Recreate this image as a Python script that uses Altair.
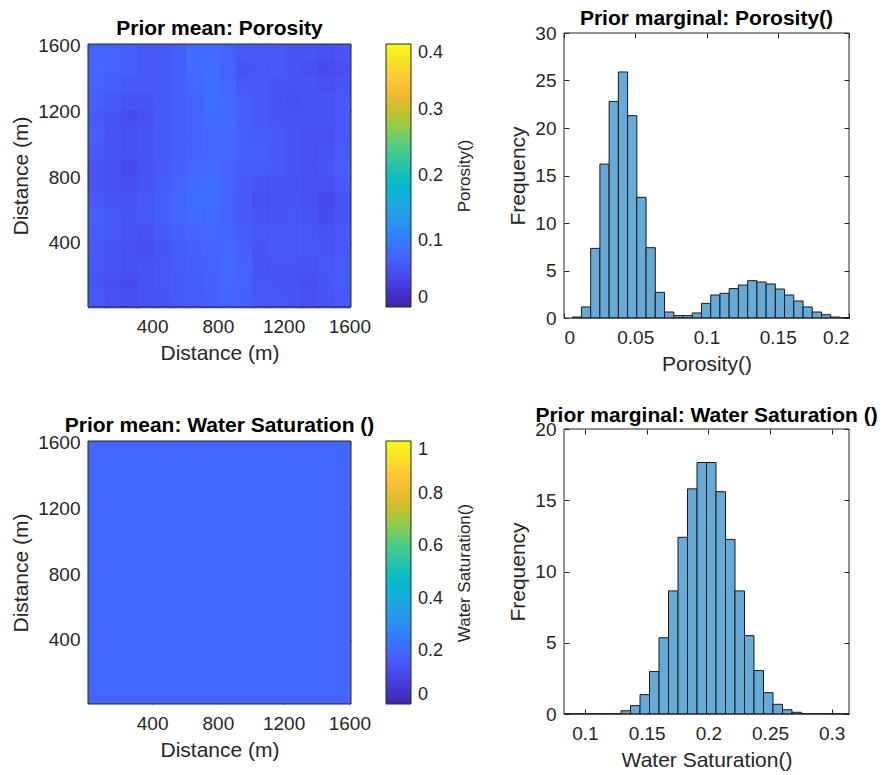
import altair as alt
import pandas as pd

# ---------------- data ----------------
# Porosity prior-mean field, 16 x 16 cells of 100 m (rows from top y=1560 to bottom y=60)
X_CENTERS = [60, 160, 260, 360, 460, 560, 660, 760, 860, 960, 1060, 1160, 1260, 1360, 1460, 1560]
Y_CENTERS = [1560, 1460, 1360, 1260, 1160, 1060, 960, 860, 760, 660, 560, 460, 360, 260, 160, 60]
CELL = 100
POROSITY_ROWS = [
    [0.075, 0.075, 0.070, 0.065, 0.065, 0.070, 0.085, 0.085, 0.075, 0.065, 0.065, 0.065, 0.060, 0.060, 0.055, 0.060],
    [0.080, 0.075, 0.070, 0.065, 0.065, 0.070, 0.085, 0.090, 0.075, 0.060, 0.062, 0.065, 0.060, 0.055, 0.048, 0.055],
    [0.075, 0.070, 0.065, 0.065, 0.065, 0.070, 0.080, 0.090, 0.080, 0.065, 0.065, 0.060, 0.058, 0.060, 0.055, 0.060],
    [0.070, 0.065, 0.060, 0.060, 0.065, 0.070, 0.075, 0.090, 0.085, 0.070, 0.065, 0.058, 0.055, 0.060, 0.060, 0.065],
    [0.065, 0.060, 0.050, 0.055, 0.065, 0.070, 0.075, 0.085, 0.085, 0.070, 0.065, 0.060, 0.058, 0.060, 0.060, 0.065],
    [0.070, 0.060, 0.055, 0.060, 0.065, 0.070, 0.075, 0.080, 0.080, 0.070, 0.068, 0.065, 0.060, 0.055, 0.055, 0.065],
    [0.065, 0.060, 0.055, 0.060, 0.065, 0.070, 0.075, 0.080, 0.080, 0.072, 0.070, 0.065, 0.060, 0.055, 0.058, 0.068],
    [0.060, 0.055, 0.050, 0.058, 0.065, 0.072, 0.080, 0.085, 0.075, 0.068, 0.068, 0.065, 0.060, 0.055, 0.060, 0.070],
    [0.060, 0.055, 0.052, 0.060, 0.068, 0.075, 0.085, 0.090, 0.078, 0.065, 0.058, 0.060, 0.058, 0.055, 0.055, 0.065],
    [0.065, 0.060, 0.058, 0.062, 0.070, 0.078, 0.090, 0.088, 0.075, 0.065, 0.055, 0.058, 0.060, 0.055, 0.048, 0.060],
    [0.070, 0.065, 0.060, 0.062, 0.070, 0.078, 0.085, 0.082, 0.075, 0.065, 0.058, 0.060, 0.062, 0.058, 0.050, 0.060],
    [0.068, 0.062, 0.058, 0.055, 0.065, 0.072, 0.078, 0.080, 0.078, 0.068, 0.062, 0.065, 0.065, 0.062, 0.058, 0.065],
    [0.065, 0.060, 0.055, 0.052, 0.060, 0.068, 0.072, 0.078, 0.080, 0.070, 0.060, 0.065, 0.065, 0.062, 0.060, 0.065],
    [0.062, 0.058, 0.055, 0.058, 0.062, 0.068, 0.070, 0.075, 0.082, 0.075, 0.058, 0.060, 0.060, 0.058, 0.062, 0.068],
    [0.060, 0.052, 0.050, 0.058, 0.062, 0.065, 0.068, 0.072, 0.080, 0.075, 0.062, 0.060, 0.058, 0.052, 0.060, 0.068],
    [0.062, 0.055, 0.052, 0.058, 0.060, 0.065, 0.068, 0.070, 0.078, 0.072, 0.065, 0.062, 0.060, 0.055, 0.060, 0.065],
]
SW_MEAN = 0.2            # water saturation prior mean (uniform field)
FIELD_EXTENT = [10, 1610]

# Porosity marginal histogram (30 bins)
POR_BIN_START = 0.00575
POR_BIN_WIDTH = 0.00648
POR_FREQ = [0.1, 1.16, 7.33, 16.2, 22.8, 25.9, 21.3, 12.7, 7.4, 2.7,
            0.63, 0.25, 0.25, 0.53, 1.54, 2.42, 2.6, 3.1, 3.47, 3.93,
            3.79, 3.58, 3.05, 2.42, 1.79, 1.16, 0.63, 0.35, 0.1, 0.05]

# Water saturation marginal histogram (30 bins)
SW_BIN_START = 0.083
SW_BIN_WIDTH = 0.0077
SW_FREQ = [0.02, 0.02, 0.02, 0.02, 0.02, 0.03, 0.23, 0.59, 1.36, 2.98,
           5.35, 8.64, 12.4, 15.8, 17.65, 17.65, 15.6, 12.25, 8.64, 5.5,
           3.05, 1.5, 0.68, 0.3, 0.12, 0.03, 0.02, 0.02, 0.02, 0.02]

DIST_TICKS = [400, 800, 1200, 1600]
POR_CBAR_TICKS = [0, 0.1, 0.2, 0.3, 0.4]
SW_CBAR_TICKS = [0, 0.2, 0.4, 0.6, 0.8, 1]
POR_X_TICKS = [0, 0.05, 0.1, 0.15, 0.2]
POR_Y_TICKS = [0, 5, 10, 15, 20, 25, 30]
SW_X_TICKS = [0.1, 0.15, 0.2, 0.25, 0.3]
SW_Y_TICKS = [0, 5, 10, 15, 20]

# ---------------- style ----------------
PARULA_RGB = [
    (0.2422, 0.1504, 0.6603), (0.2504, 0.1650, 0.7076), (0.2578, 0.1818, 0.7511), (0.2647, 0.1978, 0.7952),
    (0.2706, 0.2147, 0.8364), (0.2751, 0.2342, 0.8710), (0.2783, 0.2559, 0.8991), (0.2803, 0.2782, 0.9221),
    (0.2813, 0.3006, 0.9414), (0.2810, 0.3228, 0.9579), (0.2795, 0.3447, 0.9717), (0.2760, 0.3667, 0.9829),
    (0.2699, 0.3892, 0.9906), (0.2602, 0.4123, 0.9952), (0.2440, 0.4358, 0.9988), (0.2206, 0.4603, 0.9973),
    (0.1963, 0.4847, 0.9892), (0.1834, 0.5074, 0.9798), (0.1786, 0.5289, 0.9682), (0.1764, 0.5499, 0.9520),
    (0.1687, 0.5703, 0.9359), (0.1540, 0.5902, 0.9218), (0.1460, 0.6091, 0.9079), (0.1380, 0.6276, 0.8973),
    (0.1248, 0.6459, 0.8883), (0.1113, 0.6635, 0.8763), (0.0952, 0.6798, 0.8598), (0.0689, 0.6948, 0.8394),
    (0.0297, 0.7082, 0.8163), (0.0036, 0.7203, 0.7917), (0.0067, 0.7312, 0.7660), (0.0433, 0.7411, 0.7394),
    (0.0964, 0.7500, 0.7120), (0.1408, 0.7584, 0.6842), (0.1717, 0.7670, 0.6554), (0.1938, 0.7758, 0.6251),
    (0.2161, 0.7843, 0.5923), (0.2470, 0.7918, 0.5567), (0.2906, 0.7973, 0.5188), (0.3406, 0.8008, 0.4789),
    (0.3909, 0.8029, 0.4354), (0.4456, 0.8024, 0.3909), (0.5044, 0.7993, 0.3480), (0.5616, 0.7942, 0.3045),
    (0.6174, 0.7876, 0.2612), (0.6720, 0.7793, 0.2227), (0.7242, 0.7698, 0.1910), (0.7738, 0.7598, 0.1646),
    (0.8203, 0.7498, 0.1535), (0.8634, 0.7406, 0.1596), (0.9035, 0.7330, 0.1774), (0.9393, 0.7288, 0.2100),
    (0.9728, 0.7298, 0.2394), (0.9956, 0.7434, 0.2371), (0.9970, 0.7659, 0.2199), (0.9952, 0.7893, 0.2028),
    (0.9892, 0.8136, 0.1885), (0.9786, 0.8386, 0.1766), (0.9676, 0.8639, 0.1643), (0.9610, 0.8890, 0.1537),
    (0.9597, 0.9135, 0.1423), (0.9628, 0.9373, 0.1265), (0.9691, 0.9606, 0.1064), (0.9769, 0.9839, 0.0805),
]
PARULA = ["#%02x%02x%02x" % tuple(int(round(c * 255)) for c in rgb) for rgb in PARULA_RGB]

FONT = "Liberation Sans"
INK = "#262626"
BAR_FILL = "#66aad7"
BAR_EDGE = "#1a1a1a"

HEAT_W = 263          # heat-map field size (px)
HIST_W = 285          # histogram plot size (px); also the height of every grid cell
TICK_LEN = 5
SEAM_OVERLAP = 8      # metres of overlap between neighbouring cells, hides anti-aliasing seams

# ---------------- tables ----------------
por_rows = []
for yi, yc in enumerate(Y_CENTERS):
    for xi, xc in enumerate(X_CENTERS):
        por_rows.append({"x0": xc - CELL / 2, "x1": xc + CELL / 2 + SEAM_OVERLAP,
                         "y0": yc - CELL / 2 - SEAM_OVERLAP, "y1": yc + CELL / 2,
                         "val": POROSITY_ROWS[yi][xi]})
por_df = pd.DataFrame(por_rows)
sw_df = pd.DataFrame([{"x0": FIELD_EXTENT[0], "x1": FIELD_EXTENT[1],
                       "y0": FIELD_EXTENT[0], "y1": FIELD_EXTENT[1], "val": SW_MEAN}])

por_hist = pd.DataFrame({
    "b0": [POR_BIN_START + i * POR_BIN_WIDTH for i in range(len(POR_FREQ))],
    "b1": [POR_BIN_START + (i + 1) * POR_BIN_WIDTH for i in range(len(POR_FREQ))],
    "f": POR_FREQ,
})
sw_hist = pd.DataFrame({
    "b0": [SW_BIN_START + i * SW_BIN_WIDTH for i in range(len(SW_FREQ))],
    "b1": [SW_BIN_START + (i + 1) * SW_BIN_WIDTH for i in range(len(SW_FREQ))],
    "f": SW_FREQ,
})


def main_axis(values, title, orient, fmt, shift=0):
    return alt.Axis(values=values, title=title, orient=orient, offset=-TICK_LEN - shift, tickSize=TICK_LEN,
                    domain=False, labelFontSize=19, titleFontSize=21, titleFontWeight="normal",
                    labelPadding=10 if orient == "bottom" else 8, titlePadding=6, format=fmt,
                    minExtent=0)


def ghost_axis(values, orient, title=None, shift=0):
    kw = dict(values=values, orient=orient, offset=-TICK_LEN - shift, tickSize=TICK_LEN,
              domain=False, labels=False, minExtent=0)
    if title:
        kw.update(title=title, titleAngle=270, titleFontSize=17, titleFontWeight="normal",
                  titlePadding=113, titleBaseline="middle")
    else:
        kw["title"] = ""
        kw["maxExtent"] = 0
    return alt.Axis(**kw)


def frame(xdom, ydom, xs, ys):
    fdf = pd.DataFrame({"fx0": [xdom[0]], "fx1": [xdom[1]], "fy0": [ydom[0]], "fy1": [ydom[1]]})
    return alt.Chart(fdf).mark_rect(fillOpacity=0, stroke=INK, strokeWidth=1).encode(
        x=alt.X("fx0:Q", scale=xs, axis=None), x2="fx1:Q",
        y=alt.Y("fy0:Q", scale=ys, axis=None), y2="fy1:Q",
    )


def heatmap(df, title, cdom, cticks, ctitle, top_pad, toff):
    bottom_pad = HIST_W - HEAT_W - top_pad
    xs = alt.Scale(domain=FIELD_EXTENT, nice=False, zero=False)
    ys = alt.Scale(domain=FIELD_EXTENT, nice=False, zero=False, range=[top_pad + HEAT_W, top_pad])
    cscale = alt.Scale(domain=cdom, range=PARULA, nice=False, zero=False)
    main = alt.Chart(df).mark_rect(clip=True).encode(
        x=alt.X("x0:Q", scale=xs, axis=main_axis(DIST_TICKS, "Distance (m)", "bottom", "d", bottom_pad)),
        x2="x1:Q",
        y=alt.Y("y0:Q", scale=ys, axis=main_axis(DIST_TICKS, "Distance (m)", "left", "d")),
        y2="y1:Q",
        color=alt.Color("val:Q", scale=cscale,
                        legend=alt.Legend(title=None, orient="none", legendX=HEAT_W + 35, legendY=top_pad,
                                          direction="vertical", type="gradient",
                                          gradientLength=HEAT_W, gradientThickness=25,
                                          values=cticks, format="~g",
                                          labelFontSize=18, labelOffset=7,
                                          gradientStrokeColor=INK, gradientStrokeWidth=1)),
    )
    ghost = alt.Chart(df).mark_point(opacity=0).encode(
        x=alt.X("x0:Q", scale=xs, axis=ghost_axis(DIST_TICKS, "top", shift=top_pad)),
        y=alt.Y("y0:Q", scale=ys, axis=ghost_axis(DIST_TICKS, "right", ctitle)),
    )
    return alt.layer(main, ghost, frame(FIELD_EXTENT, FIELD_EXTENT, xs, ys)).resolve_axis(
        x="independent", y="independent").properties(
        width=HEAT_W, height=HIST_W,
        title=alt.TitleParams(title, offset=toff))


def histogram(df, title, xdom, xticks, ydom, yticks, xtitle, toff):
    xs = alt.Scale(domain=xdom, nice=False, zero=False)
    ys = alt.Scale(domain=ydom, nice=False)
    bars = alt.Chart(df).mark_bar(fill=BAR_FILL, stroke=BAR_EDGE, strokeWidth=1).encode(
        x=alt.X("b0:Q", scale=xs, axis=main_axis(xticks, xtitle, "bottom", ".3~f")),
        x2="b1:Q",
        y=alt.Y("f:Q", scale=ys, axis=main_axis(yticks, "Frequency", "left", "d")),
        y2=alt.datum(0),
    )
    ghost = alt.Chart(df).mark_point(opacity=0).encode(
        x=alt.X("b0:Q", scale=xs, axis=ghost_axis(xticks, "top")),
        y=alt.Y("f:Q", scale=ys, axis=ghost_axis(yticks, "right")),
    )
    return alt.layer(bars, ghost, frame(xdom, ydom, xs, ys)).resolve_axis(
        x="independent", y="independent").properties(
        width=HIST_W, height=HIST_W,
        title=alt.TitleParams(title, offset=toff))


h1 = heatmap(por_df, "Prior mean: Porosity", [0, 0.4], POR_CBAR_TICKS, "Porosity()", 11, -5.5)
g1 = histogram(por_hist, "Prior marginal: Porosity()", [0, 0.2], POR_X_TICKS, [0, 30], POR_Y_TICKS,
               "Porosity()", -4.5)
h2 = heatmap(sw_df, "Prior mean: Water Saturation ()", [0, 1], SW_CBAR_TICKS, "Water Saturation()", 12, -6.5)
g2 = histogram(sw_hist, "Prior marginal: Water Saturation ()", [0.083, 0.314], SW_X_TICKS, [0, 20], SW_Y_TICKS,
               "Water Saturation()", -5.5)

chart = alt.concat(h1, g1, h2, g2, columns=2, bounds="flush",
                   spacing={"row": 111, "column": 213}).resolve_scale(color="independent").properties(
    padding={"left": 10, "top": 7, "right": 2, "bottom": 2},
    background="white",
).configure_view(
    stroke=None
).configure_axis(
    labelFont=FONT, titleFont=FONT, labelColor=INK, titleColor=INK, tickColor=INK, grid=False,
).configure_legend(
    labelFont=FONT, titleFont=FONT, labelColor=INK, titleColor=INK,
).configure_title(
    font=FONT, fontSize=21, fontWeight="bold", color="#000000", anchor="middle",
)

chart.save("out.html", embed_options={"renderer": "svg", "actions": False})
